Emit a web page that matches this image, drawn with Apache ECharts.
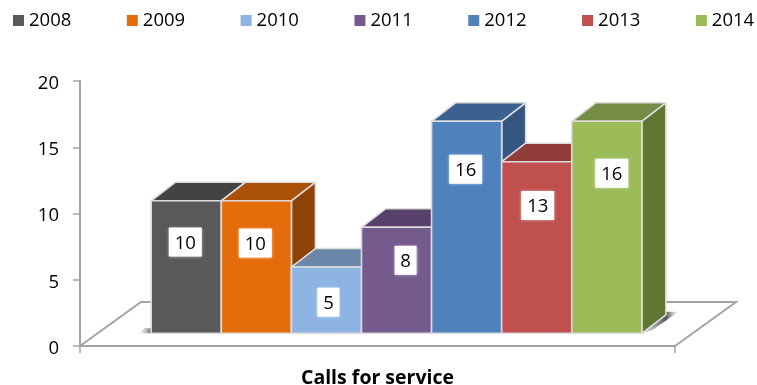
<!DOCTYPE html>
<html>
<head>
<meta charset="utf-8">
<style>html,body{margin:0;padding:0;background:#fff}#c{width:757px;height:385px}</style>
<script src="https://cdn.jsdelivr.net/npm/echarts@6/dist/echarts.min.js"></script>
</head>
<body>
<div id="c"></div>
<script>
var categories = ['Calls for service'];
var years = ['2008', '2009', '2010', '2011', '2012', '2013', '2014'];
var values = [10, 10, 5, 8, 16, 13, 16];
var drawnValues = [10, 10, 5, 8, 16, 12.95, 16];
var yTicks = {min: 0, max: 20, interval: 5};

var frontColors = ['#595959', '#E46C0A', '#8DB4E2', '#755A8E', '#4F81BD', '#C0504D', '#9BBB59'];
var topColors = ['#434343', '#AB5107', '#6A87AA', '#574069', '#3B618E', '#903C39', '#748C43'];
var sideColors = ['#3A3A3A', '#8E4306', '#5A7494', '#4B3859', '#335580', '#7D3331', '#627634'];
var labelNudgeX = [-1, -1, 2, 9, -1, 1, 5];
var labelNudgeY = [-25, -24, 2, -20, -58, -42, -54];
var labelBoxW = [33, 33, 22, 22, 33, 33, 33];

var FONT = '"Open Sans", sans-serif';
var EDGE = '#dcdcdc', AXIS = '#a3a3a3';
var BAR_FRACTION = 0.1178, BAR_SHIFT = 0.032, LIFT = 12.7, DX = 24, DY = 18.5;
var FLOOR_DX = 61, FLOOR_DY = 44;

function poly(points, fill) {
  return {type: 'polygon', shape: {points: points},
    style: {fill: fill, stroke: EDGE, lineWidth: 1.6, lineJoin: 'round'}};
}

function barSeries(i) {
  return {
    type: 'custom', name: years[i], coordinateSystem: 'cartesian2d', clip: false,
    itemStyle: {color: frontColors[i]},
    encode: {x: 0, y: 1},
    data: [[0, drawnValues[i]]],
    renderItem: function (params, api) {
      var band = api.size([1, 0])[0];
      var w = band * BAR_FRACTION;
      var base = api.coord([0, 0]);
      var top = api.coord([0, api.value(1)]);
      var x0 = base[0] + band * BAR_SHIFT + (i - 3.5) * w, x1 = x0 + w;
      var yb = base[1] - LIFT, yt = top[1] - LIFT;
      var cx = (x0 + x1) / 2 + labelNudgeX[i], cy = (yb + yt) / 2 + labelNudgeY[i];
      var bw = labelBoxW[i], bh = 29;
      return {type: 'group', children: [
        poly([[x0, yt], [x1, yt], [x1 + DX, yt - DY], [x0 + DX, yt - DY]], topColors[i]),
        poly([[x1, yt], [x1 + DX, yt - DY], [x1 + DX, yb - DY], [x1, yb]], sideColors[i]),
        poly([[x0, yb], [x1, yb], [x1, yt], [x0, yt]], frontColors[i]),
        {type: 'rect', shape: {x: cx - bw / 2, y: cy - bh / 2, width: bw, height: bh},
          style: {fill: '#fff', shadowBlur: 3, shadowColor: 'rgba(255,255,255,0.8)'}},
        {type: 'text', style: {text: String(values[i]), x: cx, y: cy + 1.5, align: 'center', verticalAlign: 'middle',
          fill: '#000', font: '18.5px ' + FONT}}
      ]};
    }
  };
}

var floorSeries = {
  type: 'custom', coordinateSystem: 'cartesian2d', clip: false, silent: true, legendHoverLink: false,
  encode: {x: 0, y: 1},
  data: [[0, 0]],
  renderItem: function (params, api) {
    var band = api.size([1, 0])[0];
    var o = api.coord([0, 0]);
    var l = o[0] - band / 2, r = o[0] + band / 2, y = o[1];
    var w = band * BAR_FRACTION, mid = o[0] + band * BAR_SHIFT;
    var bx1 = mid + 3.5 * w, bx0 = mid - 3.5 * w, yb = y - LIFT;
    return {type: 'group', children: [
      {type: 'polyline', shape: {points: [[l, y], [l + FLOOR_DX, y - FLOOR_DY], [r + FLOOR_DX, y - FLOOR_DY], [r, y]]},
        style: {fill: null, stroke: AXIS, lineWidth: 2}},
      {type: 'polygon', shape: {points: [[bx1, yb], [bx1 + DX, yb - DY - 3], [bx1 + 37, yb - DY - 3], [bx1 + 10, yb - 3]]},
        style: {fill: {type: 'linear', x: 0, y: 0, x2: 1, y2: 0, colorStops: [
          {offset: 0, color: 'rgba(190,190,190,0.5)'}, {offset: 0.65, color: 'rgba(75,75,75,0.95)'}, {offset: 1, color: 'rgba(150,150,150,0)'}]}}},
      {type: 'polygon', shape: {points: [[bx0 - 13, yb], [bx0 - 7, yb - 5], [bx0, yb - 5], [bx0, yb]]},
        style: {fill: {type: 'linear', x: 0, y: 0, x2: 1, y2: 0, colorStops: [
          {offset: 0, color: 'rgba(170,170,170,0)'}, {offset: 1, color: 'rgba(90,90,90,0.85)'}]}}}
    ]};
  }
};

var series = [floorSeries];
years.forEach(function (y, i) { series.push(barSeries(i)); });

var chart = echarts.init(document.getElementById('c'), null, {renderer: 'canvas'});
chart.setOption({
  animation: false,
  backgroundColor: '#fff',
  legend: {
    data: years, left: 13, top: 11, width: 744, padding: 0, itemWidth: 11, itemHeight: 11, itemGap: 55.5, icon: 'rect', selectedMode: false,
    textStyle: {fontFamily: FONT, fontSize: 18.5, color: '#000'}
  },
  grid: {left: 80, right: 82, top: 81, bottom: 39, containLabel: false, outerBoundsMode: 'none'},
  xAxis: {
    type: 'category', data: categories,
    axisLine: {lineStyle: {color: AXIS, width: 2}},
    axisTick: {show: true, length: 7, lineStyle: {color: AXIS, width: 1.5}},
    axisLabel: {margin: 22, fontFamily: FONT, fontSize: 19.5, fontWeight: 'bold', color: '#000'}
  },
  yAxis: {
    type: 'value', min: yTicks.min, max: yTicks.max, interval: yTicks.interval,
    splitLine: {show: false},
    axisLine: {show: true, lineStyle: {color: AXIS, width: 2}},
    axisTick: {show: true, length: 7, lineStyle: {color: AXIS, width: 1.5}},
    axisLabel: {margin: 21, fontFamily: FONT, fontSize: 18.5, color: '#000', verticalAlign: 'top', lineHeight: 5}
  },
  series: series
});
</script>
</body>
</html>
